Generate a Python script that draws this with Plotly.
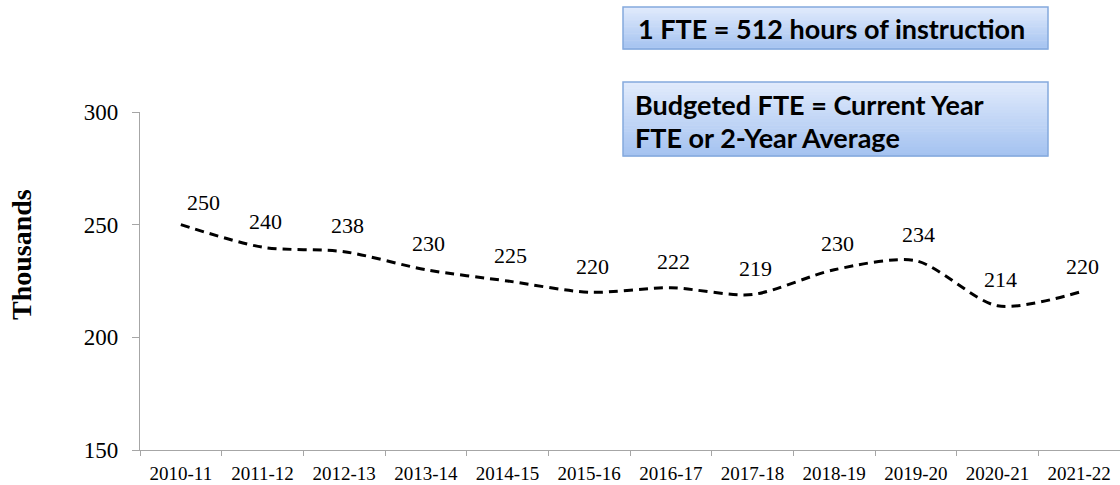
import plotly.graph_objects as go

years = ["2010-11", "2011-12", "2012-13", "2013-14", "2014-15", "2015-16",
         "2016-17", "2017-18", "2018-19", "2019-20", "2020-21", "2021-22"]
fte_thousands = [250, 240, 238, 230, 225, 220, 222, 219, 230, 234, 214, 220]

y_ticks = [150, 200, 250, 300]
box1_text = "1 FTE = 512 hours of instruction"
box2_lines = ["Budgeted FTE = Current Year", "FTE or 2-Year Average"]

W, H = 1120, 485
ML, MR, MT, MB = 140, 0, 112, 35
PW, PH = W - ML - MR, H - MT - MB
SERIF = "Liberation Serif, Times New Roman, serif"


def px(x):
    return (x - ML) / PW


def py(y):
    return (H - MB - y) / PH


fig = go.Figure()
fig.add_trace(go.Scatter(
    x=years, y=fte_thousands, mode="lines",
    line=dict(color="black", width=3, dash="9px,6px", shape="spline", smoothing=0.8),
    hoverinfo="x+y", showlegend=False,
))

annotations = []
for i, (yr, v) in enumerate(zip(years, fte_thousands)):
    annotations.append(dict(
        x=yr, y=v, xref="x", yref="y", text=str(v), showarrow=False,
        xshift=23 if i == 0 else 3, yshift=22 if i == 0 else 26,
        font=dict(family=SERIF, size=22, color="black"),
    ))

# Axis title
annotations.append(dict(
    x=px(21), y=py(255), xref="paper", yref="paper", text="<b>Thousands</b>",
    textangle=-90, showarrow=False, xanchor="center", yanchor="middle",
    font=dict(family=SERIF, size=28, color="black"),
))

shapes = []


def gradient_box(x0, y0, x1, y1, top=(224, 234, 252), bot=(165, 195, 240), n=24):
    h = (y1 - y0) / n
    for k in range(n):
        t = k / (n - 1)
        c = tuple(int(round(top[j] + (bot[j] - top[j]) * t)) for j in range(3))
        shapes.append(dict(
            type="rect", xref="paper", yref="paper",
            x0=px(x0), x1=px(x1), y0=py(y0 + k * h), y1=py(y0 + (k + 1) * h + 0.5),
            fillcolor="rgb(%d,%d,%d)" % c, line=dict(width=0), layer="above",
        ))
    shapes.append(dict(
        type="rect", xref="paper", yref="paper",
        x0=px(x0), x1=px(x1), y0=py(y0), y1=py(y1),
        fillcolor="rgba(0,0,0,0)", line=dict(color="#84a9dd", width=1.5), layer="above",
    ))


gradient_box(623, 7, 1048, 49)
gradient_box(623, 82, 1048, 156)

box_font = dict(family="Lato", size=27, color="black")
annotations.append(dict(
    x=px(636), y=py(28), xref="paper", yref="paper", text="<b>%s</b>" % box1_text,
    showarrow=False, xanchor="left", yanchor="middle", align="left", font=box_font,
))
annotations.append(dict(
    x=px(633), y=py(104), xref="paper", yref="paper", text="<b>%s</b>" % box2_lines[0],
    showarrow=False, xanchor="left", yanchor="middle", align="left", font=box_font,
))
annotations.append(dict(
    x=px(633), y=py(137), xref="paper", yref="paper", text="<b>%s</b>" % box2_lines[1],
    showarrow=False, xanchor="left", yanchor="middle", align="left", font=box_font,
))

fig.update_layout(
    width=W, height=H,
    margin=dict(l=ML, r=MR, t=MT, b=MB, pad=0, autoexpand=False),
    paper_bgcolor="white", plot_bgcolor="white",
    showlegend=False,
    annotations=annotations,
    shapes=shapes,
    xaxis=dict(
        type="category", range=[-0.5, len(years) - 0.5], automargin=False,
        showline=True, linecolor="#a6a6a6", linewidth=1.3,
        ticks="outside", tickson="boundaries", ticklen=5, tickcolor="#a6a6a6",
        showgrid=False, zeroline=False, ticklabelstandoff=6,
        tickfont=dict(family=SERIF, size=19, color="black"),
    ),
    yaxis=dict(
        range=[150, 300], tickvals=y_ticks, automargin=False,
        showline=True, linecolor="#a6a6a6", linewidth=1.3,
        ticks="outside", ticklen=7, tickcolor="#a6a6a6",
        showgrid=False, zeroline=False, ticklabelstandoff=9,
        tickfont=dict(family=SERIF, size=23, color="black"),
    ),
)

fig.write_html(
    "out.html",
    config={"displayModeBar": False},
    post_script="document.body.style.margin='0';document.body.style.padding='0';",
)
